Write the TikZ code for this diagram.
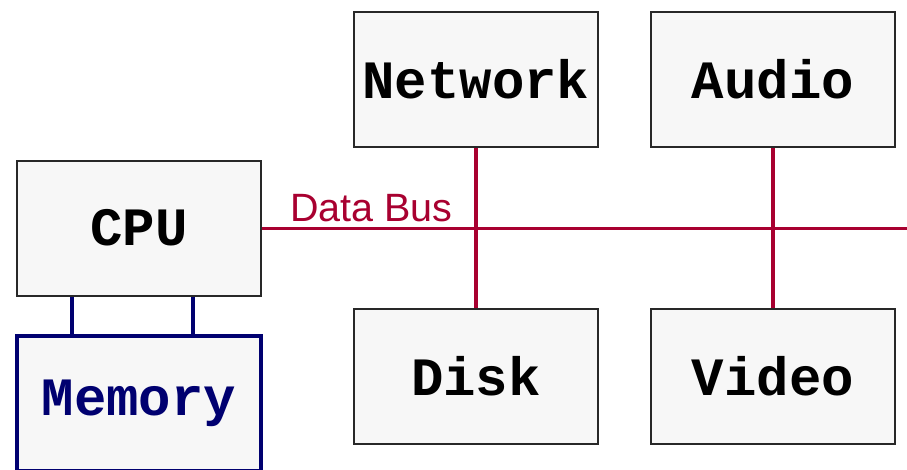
\documentclass[tikz,border=0pt]{standalone}
\usepackage{fontspec}
\setmainfont{Liberation Sans}
\newfontfamily\boxfont{Liberation Mono}
\definecolor{busred}{RGB}{168,0,48}
\definecolor{memblue}{RGB}{0,0,112}
\definecolor{boxfill}{RGB}{247,247,247}
\definecolor{boxline}{RGB}{40,40,40}
\begin{document}
\begin{tikzpicture}[x=1pt,y=-1pt,
  unit/.style={draw=boxline, fill=boxfill, line width=1.8pt, minimum width=244pt, minimum height=135pt, inner sep=0pt,
    font=\boxfont\bfseries\fontsize{54}{60}\selectfont},
  memunit/.style={unit, draw=memblue, line width=3.4pt, text=memblue},
  bus/.style={draw=busred, line width=3.4pt},
  memlink/.style={draw=memblue, line width=3.4pt}]
\useasboundingbox (0,0) rectangle (907,469);
\node[unit] (cpu) at (139,228.5) {\raisebox{1.5pt}{CPU}};
\node[memunit] (mem) at (139,403.5) {\raisebox{1.5pt}{Memory}};
\node[unit] (net) at (476,79.5) {\raisebox{1.5pt}{Network}};
\node[unit] (aud) at (773,79.5) {\raisebox{1.5pt}{Audio}};
\node[unit] (disk) at (476,376.5) {\raisebox{1.5pt}{Disk}};
\node[unit] (vid) at (773,376.5) {\raisebox{1.5pt}{Video}};
\coordinate (busend) at (910,228.5);
\draw[bus] (cpu.east) -- (busend);
\draw[bus] (net.south) -- (disk.north);
\draw[bus] (aud.south) -- (vid.north);
\draw[memlink] ([xshift=-67pt]cpu.south) -- ([xshift=-67pt]mem.north);
\draw[memlink] ([xshift=54pt]cpu.south) -- ([xshift=54pt]mem.north);
\node[anchor=base west, inner sep=0pt, text=busred, font=\fontsize{39.5}{42}\selectfont] (lbl) at (290,221.5) {Data Bus};
\end{tikzpicture}
\end{document}
